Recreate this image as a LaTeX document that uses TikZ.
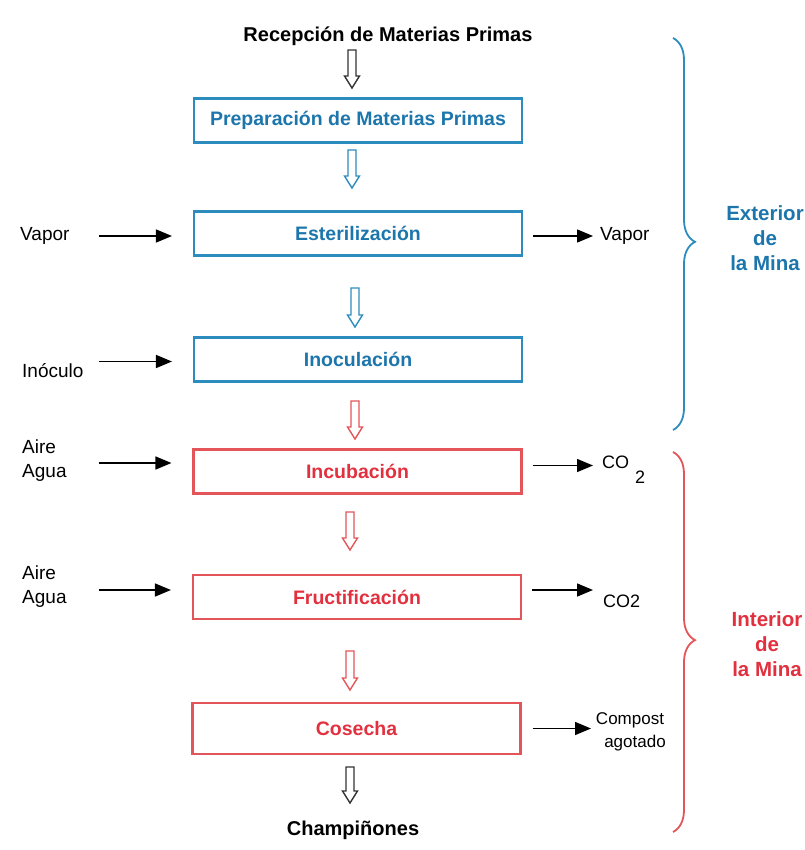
\documentclass[tikz,border=0pt]{standalone}
\usepackage{fontspec}
\setmainfont{Liberation Sans}
\usetikzlibrary{arrows.meta,decorations.pathreplacing,calc}

\definecolor{mineblue}{RGB}{45,140,190}
\definecolor{blueink}{RGB}{28,118,172}
\definecolor{minered}{RGB}{228,85,90}
\definecolor{redink}{RGB}{226,48,62}

\newcommand{\stagefont}{\bfseries\fontsize{19.5}{23}\selectfont}
\newcommand{\lblfont}{\fontsize{19}{24}\selectfont}
\newcommand{\zonefont}{\bfseries\fontsize{20.5}{25}\selectfont}

% hollow block arrow pointing down: colour, top point, tip point
\newcommand{\hollowdown}[3]{%
  \draw[#1, line width=1.4pt, line join=miter, fill=white]
    let \p1=(#2), \p2=(#3) in
    (\x1-4,\y1) -- (\x1+4,\y1) -- (\x1+4,\y2+12) -- (\x1+7.5,\y2+12) -- (\x1,\y2)
    -- (\x1-7.5,\y2+12) -- (\x1-4,\y2+12) -- cycle;}

\tikzset{
  stage/.style={draw, line width=2.1pt, minimum width=328pt, minimum height=44pt,
    inner sep=0pt, font=\stagefont},
  bluestage/.style={stage, draw=mineblue, text=blueink},
  redstage/.style={stage, draw=minered, text=redink},
  feed/.style={black, line width=1.5pt, -{Triangle[length=16pt,width=13pt]}},
  lbl/.style={font=\lblfont, inner sep=0pt},
  endpoint/.style={font=\bfseries\fontsize{20}{24}\selectfont, inner sep=0pt},
  zone/.style={decorate, line width=1.8pt,
    decoration={brace, amplitude=22pt, aspect=#1}},
  zonelabel/.style={font=\zonefont, align=center, inner sep=0pt},
}

\begin{document}
\begin{tikzpicture}[x=1pt, y=-1pt]
\useasboundingbox (0,0) rectangle (804,850);

% start and end of the process
\node[endpoint] (rec) at (388,36) {Recepción de Materias Primas};
\node[endpoint] (champ) at (353,830) {Champiñones};

% process stages
\node[bluestage] (prep)  at (358,120.5) {Preparación de Materias Primas};
\node[bluestage] (ester) at (358,233.5) {Esterilización};
\node[bluestage] (inoc)  at (358,359.5) {Inoculación};
\node[redstage]  (incub) at (357.5,471.5) {Incubación};
\node[redstage]  (fruct) at (357,597) {Fructificación};
\node[redstage, minimum height=51pt] (cose) at (356.5,728.5) {Cosecha};

% hollow flow arrows between the stages
\coordinate (f1a) at (352,50);  \coordinate (f1b) at (352,88);
\coordinate (f2a) at (352,150); \coordinate (f2b) at (352,188);
\coordinate (f3a) at (355,288); \coordinate (f3b) at (355,327);
\coordinate (f4a) at (355,401); \coordinate (f4b) at (355,439);
\coordinate (f5a) at (350,512); \coordinate (f5b) at (350,550);
\coordinate (f6a) at (350,651); \coordinate (f6b) at (350,690);
\coordinate (f7a) at (350,767); \coordinate (f7b) at (350,803);
\hollowdown{black!80}{f1a}{f1b}
\hollowdown{mineblue}{f2a}{f2b}
\hollowdown{mineblue}{f3a}{f3b}
\hollowdown{minered}{f4a}{f4b}
\hollowdown{minered}{f5a}{f5b}
\hollowdown{minered}{f6a}{f6b}
\hollowdown{black!80}{f7a}{f7b}

% inputs on the left
\coordinate (leftrail) at (99,0);
\node[lbl, anchor=west] (vin)  at (20,236) {Vapor};
\node[lbl, anchor=west] (inin) at (22,371) {Inóculo};
\node[lbl, anchor=west, align=left] (aa1) at (22,461) {Aire\\Agua};
\node[lbl, anchor=west, align=left] (aa2) at (22,587) {Aire\\Agua};
\draw[feed] (leftrail |- vin) -- ([xshift=-21pt]ester.west |- vin);
\draw[feed] ([yshift=-2pt]leftrail |- inoc) -- ([xshift=-21pt,yshift=-2pt]inoc.west);
\draw[feed] ([yshift=-2pt]leftrail |- aa1) -- ([xshift=-21pt,yshift=-2pt]incub.west |- aa1);
\draw[feed] ([yshift=-3pt]leftrail |- aa2) -- ([xshift=-21pt,yshift=-3pt]fruct.west |- aa2);

% outputs on the right
\coordinate (rightrail) at (593,0);
\node[lbl, anchor=west] (vout) at (600,236) {Vapor};
\node[lbl, anchor=base west, font=\fontsize{18}{22}\selectfont] (co2a) at (602,468)
  {CO\hspace{6pt}\raisebox{-15pt}{2}};
\node[lbl, anchor=west, font=\fontsize{18}{22}\selectfont] (co2b) at (603,601) {CO2};
\node[lbl, align=center, font=\fontsize{17}{24.5}\selectfont] (comp) at (630,732) {Compost\\[-1pt]\hspace*{10pt}agotado};
\draw[feed] ([xshift=10pt]ester.east |- vout) -- (rightrail |- vout);
\draw[feed] ([xshift=10pt,yshift=6pt]incub.east) -- ([yshift=6pt]rightrail |- incub);
\draw[feed] ([xshift=10pt,yshift=7pt]fruct.east) -- ([yshift=7pt]rightrail |- fruct);
\draw[feed] ([xshift=11pt]cose.east) -- ([xshift=-2pt]rightrail |- cose);

% zones of the mine
\draw[zone=0.52, mineblue] (673,38) coordinate (ext1) -- (673,430) coordinate (ext2);
\draw[zone=0.495, minered] (673,452) coordinate (int1) -- (673,832) coordinate (int2);
\node[zonelabel, text=blueink] (ext) at (765,238) {Exterior\\de\\la Mina};
\node[zonelabel, text=redink] (int) at (767,644) {Interior\\de\\la Mina};
\end{tikzpicture}
\end{document}
